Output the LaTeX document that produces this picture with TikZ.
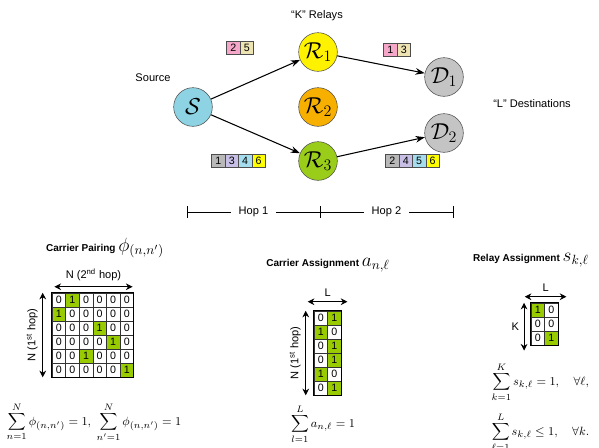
\documentclass[tikz,border=0pt]{standalone}
\usepackage{amsmath}
\usepackage{fontspec}
\setmainfont{Liberation Sans}
\usetikzlibrary{arrows.meta}

\definecolor{srcblue}{HTML}{8DD3E3}
\definecolor{relayyellow}{HTML}{FFF200}
\definecolor{relayorange}{HTML}{F7B000}
\definecolor{relaygreen}{HTML}{9ACD19}
\definecolor{destgray}{HTML}{C4C4C4}
\definecolor{cellpink}{HTML}{F4A7C8}
\definecolor{cellbeige}{HTML}{EDE3B3}
\definecolor{cellgray}{HTML}{B8B8B8}
\definecolor{celllav}{HTML}{C7BFE6}
\definecolor{cellblue}{HTML}{A6DDEE}
\definecolor{cellyellow}{HTML}{FFFF00}
\definecolor{onegreen}{HTML}{99CC00}

\begin{document}
\begin{tikzpicture}[x=0.75pt, y=-0.75pt,
    every node/.style={font=\fontsize{8.3}{10}\selectfont},
    hopnode/.style={circle, draw=black!70, minimum size=29pt, inner sep=0pt, font=\LARGE},
    link/.style={-{Stealth[length=7pt,width=5pt]}, thick},
    cellbox/.style={draw=black!70, minimum size=10pt, inner sep=0pt, font=\fontsize{8}{9}\selectfont},
    bitbox/.style={draw=black!80, minimum width=10.2pt, minimum height=10.5pt, inner sep=0pt, font=\fontsize{8}{9}\selectfont},
    title/.style={font=\bfseries\fontsize{7.5}{9}\selectfont},
    eqn/.style={font=\fontsize{9.3}{11}\selectfont},
    span/.style={{Stealth[length=5pt,width=5pt]}-{Stealth[length=5pt,width=5pt]}, thick},
]
    \useasboundingbox (0,0) rectangle (599,447);

    % Nodes
    \node[hopnode, fill=srcblue] (src) at (193,107) {$\mathcal{S}$};
    \node[hopnode, fill=relayyellow] (r1) at (318,52) {$\mathcal{R}_1$};
    \node[hopnode, fill=relayorange] (r2) at (318,107) {$\mathcal{R}_2$};
    \node[hopnode, fill=relaygreen] (r3) at (318,161) {$\mathcal{R}_3$};
    \node[hopnode, fill=destgray] (d1) at (444,77) {$\mathcal{D}_1$};
    \node[hopnode, fill=destgray] (d2) at (444,133) {$\mathcal{D}_2$};

    \node (srclab) at (153,78) {Source};
    \node (relaylab) at (317,16) {“K” Relays};
    \node (destlab) at (532,104) {“L” Destinations};

    % Links
    \draw[link] (src) -- (r1);
    \draw[link] (src) -- (r3);
    \draw[link] (r1) -- (d1);
    \draw[link] (r3) -- (d2);

    % Carriers on each link
    \foreach \d/\c [count=\i] in {2/cellpink,5/cellbeige}
        \node[cellbox, fill=\c] (sa-\i) at (220+13.4*\i,48) {\d};
    \foreach \d/\c [count=\i] in {1/cellgray,3/celllav,4/cellblue,6/cellyellow}
        \node[cellbox, fill=\c] (sb-\i) at (205+13.4*\i,161) {\d};
    \foreach \d/\c [count=\i] in {1/cellpink,3/cellbeige}
        \node[cellbox, fill=\c] (ra-\i) at (377+13.4*\i,50) {\d};
    \foreach \d/\c [count=\i] in {2/cellgray,4/celllav,5/cellblue,6/cellyellow}
        \node[cellbox, fill=\c] (rb-\i) at (379+13.4*\i,161) {\d};

    % Hops
    \coordinate (h0) at (187,212);
    \coordinate (h1) at (320,212);
    \coordinate (h2) at (453,212);
    \foreach \h in {h0,h1,h2}
        \draw ([yshift=4.5pt]\h) -- ([yshift=-4.5pt]\h);
    \draw (h0) -- (h1) node[midway, fill=white, inner xsep=6pt] (hop1) {Hop 1};
    \draw (h1) -- (h2) node[midway, fill=white, inner xsep=6pt] (hop2) {Hop 2};

    % Carrier pairing
    \node[title] (cp-title) at (105,248) {Carrier Pairing\ {\Large$\phi_{(n,n')}$}};
    \foreach \p [count=\r] in {2,1,4,5,3,6}
        \foreach \c in {1,...,6}{
            \ifnum\c=\p \def\bg{onegreen}\def\bit{1}\else\def\bg{white}\def\bit{0}\fi
            \node[bitbox, fill=\bg] (cp-\r-\c) at (52+13.6*\c-6.8, 293+14*\r-7) {\bit};
        }
    \draw[thick] (cp-1-1.north west) rectangle (cp-6-6.south east);
    \draw[span] ([shift={(2pt,4.5pt)}]cp-1-1.north west) -- ([shift={(-1pt,4.5pt)}]cp-1-6.north east)
        node[midway, above=1pt] (cp-top) {N (2\textsuperscript{nd} hop)};
    \draw[span] ([xshift=-6.75pt]cp-1-1.north west) -- ([xshift=-6.75pt]cp-6-1.south west)
        node[midway, above, rotate=90] (cp-left) {N (1\textsuperscript{st} hop)};
    \node[eqn] (cp-eq) at (94,422) {$\displaystyle\sum_{n=1}^{N}\phi_{(n,n')}=1,\ \sum_{n'=1}^{N}\phi_{(n,n')}=1$};

    % Carrier assignment
    \node[title] (ca-title) at (328,265) {Carrier Assignment\ {\Large$a_{n,\ell}$}};
    \foreach \a/\b [count=\r] in {0/1,1/0,0/1,0/1,1/0,0/1}
        \foreach \v [count=\c] in {\a,\b}{
            \ifnum\v=1 \def\bg{onegreen}\else\def\bg{white}\fi
            \node[bitbox, fill=\bg] (ca-\r-\c) at (314+13.6*\c-6.8, 311+14*\r-7) {\v};
        }
    \draw[thick] (ca-1-1.north west) rectangle (ca-6-2.south east);
    \draw[span] ([shift={(-4.5pt,6.75pt)}]ca-1-1.north west) -- ([shift={(4.5pt,6.75pt)}]ca-1-2.north east)
        node[midway, above=0pt] (ca-top) {L};
    \draw[span] ([xshift=-6pt]ca-1-1.north west) -- ([xshift=-6pt]ca-6-1.south west)
        node[midway, above, rotate=90] (ca-left) {N (1\textsuperscript{st} hop)};
    \node[eqn] (ca-eq) at (323,424) {$\displaystyle\sum_{l=1}^{L}a_{n,\ell}=1$};

    % Relay assignment
    \node[title] (ra-title) at (531,260) {Relay Assignment\ {\Large$s_{k,\ell}$}};
    \foreach \a/\b [count=\r] in {1/0,0/0,0/1}
        \foreach \v [count=\c] in {\a,\b}{
            \ifnum\v=1 \def\bg{onegreen}\else\def\bg{white}\fi
            \node[bitbox, fill=\bg] (rs-\r-\c) at (531+13.6*\c-6.8, 303+14*\r-7) {\v};
        }
    \draw[thick] (rs-1-1.north west) rectangle (rs-3-2.south east);
    \draw[span] ([shift={(-4.5pt,4.5pt)}]rs-1-1.north west) -- ([shift={(6pt,4.5pt)}]rs-1-2.north east)
        node[midway, above=0pt] (rs-top) {L};
    \draw[span] ([xshift=-5pt]rs-1-1.north west) -- ([shift={(-5pt,-4pt)}]rs-3-1.south west)
        node[midway, left=0pt] (rs-left) {K};
    \node[eqn, anchor=west] (rs-eq1) at (487,382) {$\displaystyle\sum_{k=1}^{K}s_{k,\ell}=1,\quad\forall\ell,$};
    \node[eqn, anchor=west] (rs-eq2) at (487,432) {$\displaystyle\sum_{\ell=1}^{L}s_{k,\ell}\leq 1,\quad\forall k.$};
\end{tikzpicture}
\end{document}
